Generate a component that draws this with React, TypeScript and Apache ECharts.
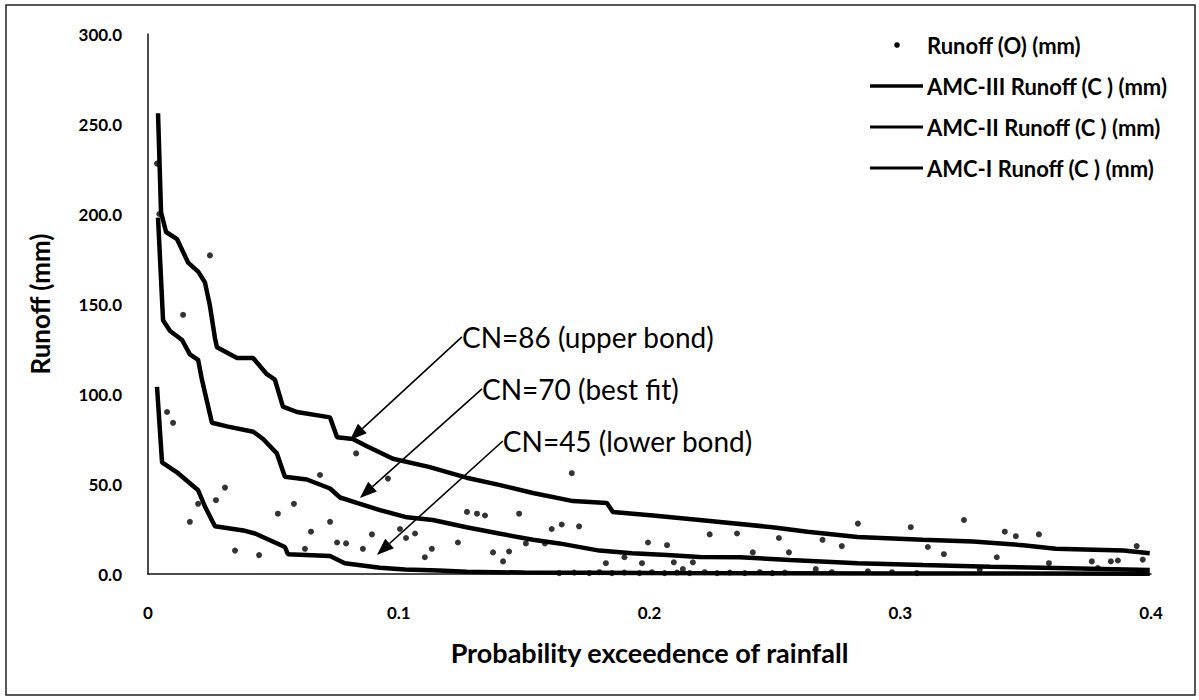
import React, { useEffect, useRef } from "react";
import * as echarts from "echarts";

// Observed runoff (probability of exceedence, runoff mm)
const obsX = [
  0.0036, 0.0045, 0.0247, 0.014, 0.0076, 0.010, 0.0307, 0.0271, 0.020, 0.0167,
  0.0347, 0.0443, 0.0518, 0.0582, 0.0686, 0.0726, 0.065, 0.0754, 0.079, 0.083,
  0.0857, 0.0893, 0.0957, 0.1005, 0.1029, 0.1065, 0.1132, 0.1104, 0.0626, 0.169,
  0.1272, 0.1312, 0.1344, 0.148, 0.161, 0.165, 0.1719, 0.1236, 0.1376, 0.144,
  0.1416, 0.1507, 0.1583, 0.1826, 0.190, 0.197, 0.1994, 0.207, 0.2097, 0.2133,
  0.2173, 0.224, 0.2349, 0.2516, 0.2556, 0.2412, 0.269, 0.2767, 0.2831, 0.3042,
  0.3254, 0.3417, 0.3461, 0.3553, 0.3943, 0.311, 0.3174, 0.3385, 0.3593, 0.3764,
  0.384, 0.3868, 0.3967, 0.3788, 0.2663, 0.2727, 0.2871, 0.2967, 0.3066, 0.3317,
  0.164, 0.170, 0.176, 0.180, 0.185, 0.190, 0.196, 0.201, 0.206, 0.211,
  0.216, 0.222, 0.227, 0.232, 0.238, 0.244, 0.249, 0.254,
];
const obsY = [
  228, 200, 177, 144, 90, 84, 48, 41, 39, 29,
  13, 10.5, 33.5, 39, 55, 29, 23.5, 17.5, 17, 67,
  14, 22, 53, 25, 20, 22.5, 14, 9.3, 14, 56,
  34.5, 33.5, 32.5, 33.5, 25, 27.5, 26.5, 17.5, 12, 12.5,
  7, 17, 17, 6, 9.3, 6, 17.5, 16, 6.5, 2.7,
  6.5, 22, 22.5, 20, 12, 12, 19, 15.5, 28, 26,
  30, 23.5, 21, 22, 15.5, 15, 11, 9.3, 6, 7,
  7, 7.5, 8, 3.3, 2.7, 1, 1.5, 1, 0.5, 2.5,
  0.5, 0.8, 0.5, 1, 0.5, 0.8, 0.5, 1, 0.5, 0.8,
  0.5, 1, 0.5, 0.8, 0.5, 1, 0.5, 0.8,
];

// AMC-III (CN=86)
const amc3X = [
  0.004, 0.0052, 0.0072, 0.0116, 0.016, 0.020, 0.0227, 0.0247, 0.0267, 0.0275,
  0.0355, 0.0419, 0.0474, 0.0506, 0.0538, 0.0594, 0.0726, 0.0754, 0.0817, 0.0873,
  0.0977, 0.112, 0.127, 0.140, 0.1535, 0.1695, 0.183, 0.1854, 0.2014, 0.220,
  0.249, 0.263, 0.283, 0.309, 0.329, 0.349, 0.362, 0.389, 0.3995,
];
const amc3Y = [
  256, 201, 190, 186, 173, 168, 162, 149, 131, 126,
  120, 120, 111, 108, 93, 90, 87, 76, 75, 71,
  64, 59.5, 53.5, 49.5, 45, 40.5, 39.5, 34.5, 32.5, 30,
  26, 23.5, 20.5, 19, 18, 16, 14, 13, 11.5,
];

// AMC-II (CN=70)
const amc2X = [
  0.004, 0.006, 0.0088, 0.0136, 0.0167, 0.020, 0.0215, 0.0235, 0.0255, 0.0315,
  0.042, 0.0459, 0.0514, 0.0546, 0.0634, 0.0726, 0.0766, 0.0833, 0.0925, 0.1033,
  0.1136, 0.127, 0.140, 0.1535, 0.164, 0.180, 0.193, 0.207, 0.220, 0.236,
  0.256, 0.283, 0.309, 0.336, 0.362, 0.3995,
];
const amc2Y = [
  198, 141, 135, 130, 122, 119, 108, 96, 84, 82,
  79, 75, 67, 54, 52.5, 47.5, 42.5, 39.5, 35.5, 31.5,
  30, 26, 22.5, 19, 17, 13, 11.5, 10.5, 9.5, 9.3,
  7.8, 6, 5, 4, 3.3, 2.2,
];

// AMC-I (CN=45)
const amc1X = [
  0.0036, 0.0056, 0.012, 0.020, 0.0227, 0.0267, 0.0387, 0.0427, 0.0546, 0.0558,
  0.0726, 0.0785, 0.0925, 0.1025, 0.116, 0.127, 0.15, 0.2, 0.3, 0.3995,
];
const amc1Y = [
  104, 62, 56, 46.5, 37.5, 26.5, 24, 22.5, 15, 11,
  10, 6, 3.5, 2.5, 2, 1.2, 0.8, 0.5, 0.3, 0.2,
];

const seriesNames = [
  "Runoff (O) (mm)",
  "AMC-III Runoff (C ) (mm)",
  "AMC-II Runoff (C ) (mm)",
  "AMC-I Runoff (C ) (mm)",
];

const annotations = [
  { text: "CN=86 (upper bond)", from: [0.1252, 131.7], to: [0.0805, 74.4] },
  { text: "CN=70 (best fit)", from: [0.1332, 102.8], to: [0.0845, 42.2] },
  { text: "CN=45 (lower bond)", from: [0.1415, 73.9], to: [0.0913, 10.6] },
];

const zip = (xs: number[], ys: number[]) => xs.map((x, i) => [x, ys[i]]);

const FONT = "Lato, 'Open Sans', sans-serif";

export default function App() {
  const ref = useRef<HTMLDivElement>(null);

  useEffect(() => {
    document.body.style.margin = "0";
    const chart = echarts.init(ref.current!, undefined, { renderer: "svg" });

    const lineSeries = (name: string, xs: number[], ys: number[]) => ({
      name,
      type: "line",
      data: zip(xs, ys),
      showSymbol: false,
      symbol: "none",
      lineStyle: { color: "#000", width: 4.5 },
      itemStyle: { color: "#000" },
      z: 3,
    });

    const legendRows = [45, 86, 127, 168];
    const legendGraphic: any[] = [];
    seriesNames.forEach((n, i) => {
      const y = legendRows[i];
      if (i === 0) {
        legendGraphic.push({
          type: "circle",
          shape: { cx: 897, cy: y, r: 2.8 },
          style: { fill: "#000" },
        });
      } else {
        legendGraphic.push({
          type: "line",
          shape: { x1: 870, y1: y, x2: 923, y2: y },
          style: { stroke: "#000", lineWidth: i === 1 ? 3.5 : 3 },
        });
      }
      legendGraphic.push({
        type: "text",
        x: 927,
        y,
        style: {
          text: n,
          fill: "#000",
          font: `bold 22px ${FONT}`,
          textVerticalAlign: "middle",
          verticalAlign: "middle",
        },
      });
    });

    const border = {
      type: "rect",
      shape: { x: 6, y: 5, width: 1189, height: 690 },
      style: { fill: "none", stroke: "#222", lineWidth: 1.5 },
      silent: true,
    };

    chart.setOption({
      animation: false,
      backgroundColor: "#fff",
      grid: { left: 148, right: 48, top: 34, bottom: 126, containLabel: false },
      xAxis: {
        type: "value",
        min: 0,
        max: 0.4,
        interval: 0.1,
        name: "Probability exceedence of rainfall",
        nameLocation: "middle",
        nameGap: 65,
        nameTextStyle: { fontFamily: FONT, fontWeight: "bold", fontSize: 27, color: "#000" },
        axisLine: { show: true, lineStyle: { color: "#111", width: 1.5 } },
        axisTick: { show: false },
        splitLine: { show: false },
        axisLabel: {
          margin: 30,
          fontFamily: FONT,
          fontWeight: "bold",
          fontSize: 17,
          color: "#000",
          formatter: (v: number) => (v === 0 ? "0" : v.toFixed(1)),
        },
      },
      yAxis: {
        type: "value",
        min: 0,
        max: 300,
        interval: 50,
        name: "Runoff (mm)",
        nameLocation: "middle",
        nameRotate: 90,
        nameGap: 95,
        nameTextStyle: { fontFamily: FONT, fontWeight: "bold", fontSize: 26, color: "#000" },
        axisLine: { show: true, lineStyle: { color: "#111", width: 1.5 } },
        axisTick: { show: false },
        splitLine: { show: false },
        axisLabel: {
          margin: 26,
          fontFamily: FONT,
          fontWeight: "bold",
          fontSize: 17,
          color: "#000",
          formatter: (v: number) => v.toFixed(1),
        },
      },
      series: [
        lineSeries(seriesNames[1], amc3X, amc3Y),
        lineSeries(seriesNames[2], amc2X, amc2Y),
        lineSeries(seriesNames[3], amc1X, amc1Y),
        {
          name: seriesNames[0],
          type: "scatter",
          data: zip(obsX, obsY),
          symbol: "circle",
          symbolSize: 6,
          itemStyle: { color: "#000" },
          z: 5,
        },
      ],
      graphic: [border, ...legendGraphic],
    });

    // annotation arrows and labels, placed through the axes' scales
    const annGraphic: any[] = [];
    annotations.forEach((a) => {
      const p = chart.convertToPixel({ gridIndex: 0 }, a.from) as number[];
      const q = chart.convertToPixel({ gridIndex: 0 }, a.to) as number[];
      const dx = q[0] - p[0];
      const dy = q[1] - p[1];
      const len = Math.sqrt(dx * dx + dy * dy);
      const ux = dx / len;
      const uy = dy / len;
      const headLen = 17;
      const headW = 6.5;
      const bx = q[0] - ux * headLen;
      const by = q[1] - uy * headLen;
      annGraphic.push({
        type: "line",
        shape: { x1: p[0], y1: p[1], x2: bx, y2: by },
        style: { stroke: "#000", lineWidth: 1.6 },
        z: 10,
      });
      annGraphic.push({
        type: "polygon",
        shape: {
          points: [
            [q[0], q[1]],
            [bx - uy * headW, by + ux * headW],
            [bx + uy * headW, by - ux * headW],
          ],
        },
        style: { fill: "#000" },
        z: 10,
      });
      annGraphic.push({
        type: "text",
        x: p[0],
        y: p[1],
        style: {
          text: a.text,
          fill: "#000",
          font: `28px ${FONT}`,
          textVerticalAlign: "middle",
          verticalAlign: "middle",
        },
        z: 10,
      });
    });

    chart.setOption(
      { graphic: [border, ...legendGraphic, ...annGraphic] },
      { replaceMerge: ["graphic"] }
    );

    return () => chart.dispose();
  }, []);

  return <div ref={ref} style={{ width: 1199, height: 700 }} />;
}
